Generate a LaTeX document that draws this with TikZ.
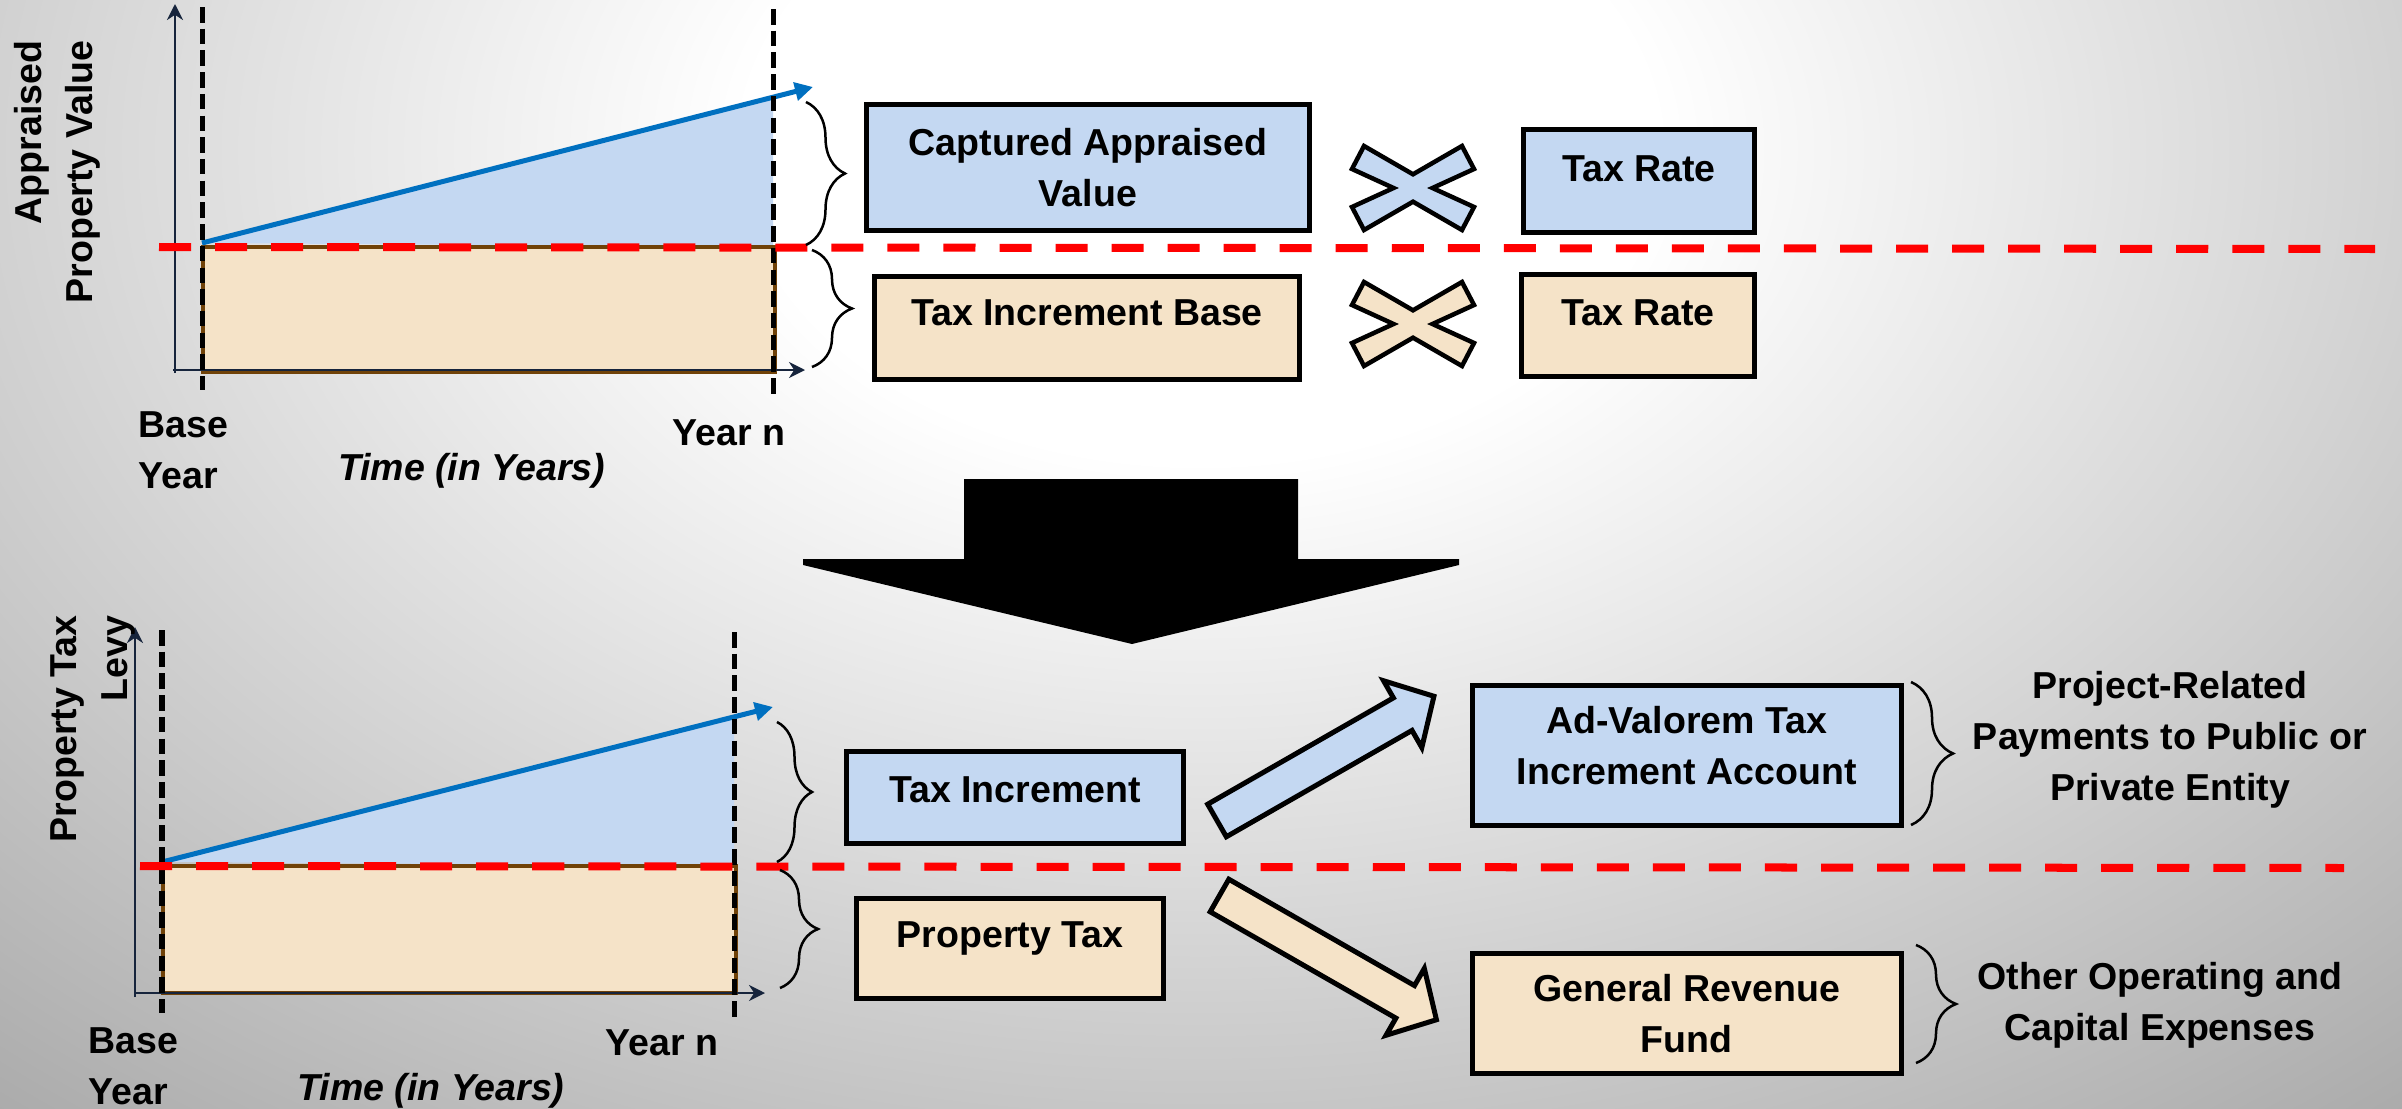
\documentclass[tikz,border=0pt]{standalone}
\usepackage{fontspec}
\setmainfont{Liberation Sans}
\usetikzlibrary{arrows.meta,decorations.pathreplacing}

\definecolor{incblue}{RGB}{196,216,242}
\definecolor{basetan}{RGB}{245,227,200}
\definecolor{basebrown}{RGB}{112,66,8}
\definecolor{trendblue}{RGB}{0,112,192}
\definecolor{axisnavy}{RGB}{22,36,60}
\definecolor{splitred}{RGB}{255,0,0}
\definecolor{bgedge}{RGB}{168,168,168}

% soft slide background: white centre fading to grey edges
\pgfdeclareradialshading{slidebg}{\pgfpoint{0bp}{0bp}}{%
  color(0bp)=(white); color(6bp)=(white); color(25bp)=(bgedge); color(50bp)=(bgedge)}

\begin{document}
\begin{tikzpicture}[x=0.01cm, y=-0.01cm,
  lbl/.style={font=\fontsize{10.67pt}{14.5pt}\selectfont\bfseries, inner sep=0pt},
  lbli/.style={lbl, font=\fontsize{10.67pt}{14.5pt}\selectfont\bfseries\itshape},
  box/.style={lbl, draw=black, line width=0.05cm, line join=miter, align=center},
  onebox/.style={box, text height=0.27cm},
  axisline/.style={draw=axisnavy, line width=0.022cm, -{Stealth[length=0.16cm,width=0.16cm]}},
  yearline/.style={draw=black, line width=0.05cm, dash pattern=on 0.155cm off 0.062cm},
  splitline/.style={draw=splitred, line width=0.08cm, dash pattern=on 0.32cm off 0.24cm},
  trend/.style={draw=trendblue, line width=0.05cm, -{Triangle[length=0.18cm,width=0.18cm]}},
  baserect/.style={fill=basetan, draw=basebrown, line width=0.045cm},
  curly/.style={draw=black, line width=0.025cm, decorate, decoration={brace, amplitude=#1}},
  timesign/.pic={\draw[line width=0.045cm, line join=miter, fill=#1]
     (-49,-42) -- (0,-13.7) -- (49,-42) -- (61,-19) -- (19.5,0) -- (61,19) --
     (49,42) -- (0,13.7) -- (-49,42) -- (-61,19) -- (-19.5,0) -- (-61,-19) -- cycle;},
  flowarrow/.pic={\draw[line width=0.05cm, line join=miter, fill=#1]
     (0,-18.75) -- (214,-18.75) -- (214,-38.5) -- (250,0) -- (214,38.5) --
     (214,18.75) -- (0,18.75) -- cycle;}
]
\useasboundingbox (0,0) rectangle (2402,1109);

% background
\begin{scope}
  \clip (0,0) rectangle (2402,1109);
  \shade[shading=slidebg] (-700,-1150) rectangle (3100,1450);
\end{scope}

% ---------- upper chart: appraised value ----------
\fill[incblue] (202,243) -- (773,97.5) -- (773,247) -- cycle;
\draw[baserect] (203,247) rectangle (775,372);
\draw[axisline] (175,373) -- (175,4);
\draw[axisline] (173,370) -- (805,370);
\draw[trend] (202,243) -- (813,87);
\draw[yearline] (202,7) -- (202,390);
\draw[yearline] (773,9) -- (773,395);
\draw[splitline] (159,247) -- (2375,249);

\node[lbl, rotate=90, anchor=east, align=right] (yaxA) at (57,40) {Appraised\\Property Value};
\node[lbl, anchor=north west, align=left] (baseA) at (138,411) {Base\\Year};
\node[lbl, anchor=base] (yearnA) at (729,445) {Year n};
\node[lbli, anchor=base] (timeA) at (471.5,480) {Time (in Years)};

\draw[curly=0.39cm] (806,102) -- (806,245);
\draw[curly=0.40cm] (812,250) -- (812,367);

\node[box, fill=incblue, minimum width=4.425cm, minimum height=1.263cm] (cav) at (1088,167.4) {Captured Appraised\\Value};
\node[onebox, fill=basetan, minimum width=4.25cm, minimum height=1.03cm, text depth=0.33cm] (tib) at (1087,328) {Tax Increment Base};
\pic at (1413,188) {timesign=incblue};
\pic at (1413,324) {timesign=basetan};
\node[onebox, fill=incblue, minimum width=2.31cm, minimum height=1.03cm, text depth=0.27cm] (rateA) at (1639,181) {Tax Rate};
\node[onebox, fill=basetan, minimum width=2.33cm, minimum height=1.02cm, text depth=0.28cm] (rateB) at (1638,325.5) {Tax Rate};

% ---------- transition arrow ----------
\fill[black] (964,479) -- (1298,479) -- (1298,559) -- (1459,559) -- (1459,565) --
  (1132,644) -- (803,565) -- (803,559) -- (964,559) -- cycle;

% ---------- lower chart: property tax levy ----------
\fill[incblue] (162,862) -- (734,717) -- (734,866) -- cycle;
\draw[baserect] (163,866) rectangle (736,993);
\draw[axisline] (135,997) -- (135,627);
\draw[axisline] (134,993) -- (765,993);
\draw[trend] (162,862) -- (773,707);
\draw[yearline] (162,630) -- (162,1013);
\draw[yearline] (734,632) -- (734,1017);
\draw[splitline] (140,866) -- (2344,868);

\node[lbl, rotate=90, anchor=east, align=right] (yaxB) at (93,615) {Property Tax\\Levy};
\node[lbl, anchor=north west, align=left] (baseB) at (88,1027) {Base\\Year};
\node[lbl, anchor=base] (yearnB) at (662,1055) {Year n};
\node[lbli, anchor=base] (timeB) at (431,1100) {Time (in Years)};

\draw[curly=0.35cm] (777,722) -- (777,862);
\draw[curly=0.38cm] (780,870) -- (780,988);

\node[onebox, fill=incblue, minimum width=3.37cm, minimum height=0.92cm, text depth=0.18cm] (ti) at (1015,797.5) {Tax Increment};
\node[onebox, fill=basetan, minimum width=3.07cm, minimum height=1.00cm, text depth=0.30cm] (pt) at (1010,948.5) {Property Tax};

\pic[rotate=29.8] at (1217,820.5) {flowarrow=incblue};
\pic[rotate=-29.8] at (1219.5,895.5) {flowarrow=basetan};

\node[box, fill=incblue, minimum width=4.285cm, minimum height=1.406cm] (av) at (1686.8,755.5) {};
\node[lbl, align=center] (avtext) at (1686.8,746) {Ad-Valorem Tax\\Increment Account};
\node[box, fill=basetan, minimum width=4.285cm, minimum height=1.20cm] (grf) at (1686.8,1013.5) {General Revenue\\Fund};

\draw[curly=0.42cm] (1911,682) -- (1911,825);
\draw[curly=0.40cm] (1916,945) -- (1916,1063);

\node[lbl, align=center] (proj) at (2170,740) {Project-Related\\Payments to Public or\\Private Entity};
\node[lbl, align=center] (other) at (2160,1005) {Other Operating and\\Capital Expenses};
\end{tikzpicture}
\end{document}
